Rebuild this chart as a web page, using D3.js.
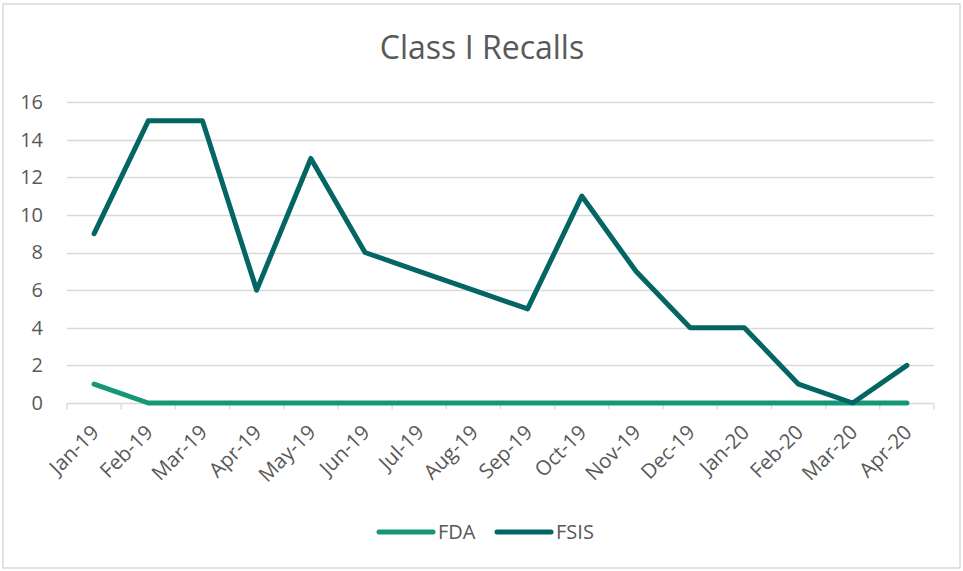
<!DOCTYPE html>
<html>
<head>
<meta charset="utf-8">
<script src="https://cdn.jsdelivr.net/npm/d3@7"></script>
<style>
  body { margin: 0; background: #fff; }
  svg { display: block; font-family: "Open Sans", "Liberation Sans", sans-serif; }
</style>
</head>
<body>
<svg id="chart" width="963" height="571"></svg>
<script>
// data
const months = ["Jan-19", "Feb-19", "Mar-19", "Apr-19", "May-19", "Jun-19", "Jul-19", "Aug-19",
  "Sep-19", "Oct-19", "Nov-19", "Dec-19", "Jan-20", "Feb-20", "Mar-20", "Apr-20"];
const fda = [1, 0, 0, 0, 0, 0, 0, 0, 0, 0, 0, 0, 0, 0, 0, 0];
const fsis = [9, 15, 15, 6, 13, 8, 7, 6, 5, 11, 7, 4, 4, 1, 0, 2];
const yTicks = [0, 2, 4, 6, 8, 10, 12, 14, 16];

const series = [
  {name: "FDA", values: fda, color: "#159679"},
  {name: "FSIS", values: fsis, color: "#046664"}
];

const svg = d3.select("#chart");
const W = 963, H = 571;
const plot = {left: 67, right: 934, top: 102, bottom: 403};
const textColor = "#595959";
const gridColor = "#d9d9d9";

// chart border
svg.append("rect")
  .attr("x", 3).attr("y", 4)
  .attr("width", W - 6).attr("height", H - 7)
  .attr("fill", "#fff")
  .attr("stroke", gridColor)
  .attr("stroke-width", 1.5);

// title
svg.append("text")
  .attr("x", 482).attr("y", 59)
  .attr("text-anchor", "middle")
  .attr("fill", textColor)
  .style("font-size", "32px")
  .text("Class I Recalls");

const x = d3.scaleBand().domain(months).range([plot.left, plot.right]);
const y = d3.scaleLinear().domain([0, 16]).range([plot.bottom, plot.top]);

// gridlines
svg.append("g")
  .selectAll("line")
  .data(yTicks.filter(d => d > 0))
  .join("line")
  .attr("x1", plot.left).attr("x2", plot.right)
  .attr("y1", d => Math.round(y(d)) + 0.5)
  .attr("y2", d => Math.round(y(d)) + 0.5)
  .attr("stroke", gridColor)
  .attr("stroke-width", 1.3);

// y axis labels
const yAxis = svg.append("g")
  .attr("transform", `translate(${plot.left},0)`)
  .call(d3.axisLeft(y).tickValues(yTicks).tickSize(0).tickPadding(24));
yAxis.select(".domain").remove();
yAxis.selectAll("text")
  .attr("fill", textColor)
  .style("font-size", "20px")
  .style("font-family", "'Open Sans', sans-serif");

// x axis
const xAxis = svg.append("g")
  .attr("transform", `translate(0,${Math.round(y(0)) + 0.5})`)
  .call(d3.axisBottom(x).tickSize(0));
xAxis.select(".domain").remove();
xAxis.append("line")
  .attr("x1", plot.left).attr("x2", plot.right)
  .attr("stroke", gridColor).attr("stroke-width", 1.3);
xAxis.selectAll(".tickmark")
  .data(months.concat(["end"]))
  .join("line")
  .attr("class", "tickmark")
  .attr("x1", (d, i) => plot.left + x.step() * i)
  .attr("x2", (d, i) => plot.left + x.step() * i)
  .attr("y1", 0).attr("y2", 6)
  .attr("stroke", gridColor).attr("stroke-width", 1.3);
xAxis.selectAll(".tick text")
  .attr("fill", textColor)
  .style("font-size", "20.5px")
  .style("font-family", "'Open Sans', sans-serif")
  .attr("text-anchor", "end")
  .attr("transform", "translate(1,25) rotate(-45)")
  .attr("dy", "0.35em")
  .attr("y", 0);

// lines
const line = d3.line()
  .x((d, i) => x(months[i]) + x.bandwidth() / 2)
  .y(d => y(d));

svg.append("g")
  .selectAll("path")
  .data(series)
  .join("path")
  .attr("d", d => line(d.values))
  .attr("fill", "none")
  .attr("stroke", d => d.color)
  .attr("stroke-width", 5)
  .attr("stroke-linecap", "round")
  .attr("stroke-linejoin", "round");

// legend
const legend = svg.append("g").attr("transform", "translate(379,532)");
const legendItems = legend.selectAll("g")
  .data(series)
  .join("g")
  .attr("transform", (d, i) => `translate(${i * 118},0)`);
legendItems.append("line")
  .attr("x1", 0).attr("x2", 54)
  .attr("stroke", d => d.color)
  .attr("stroke-width", 5)
  .attr("stroke-linecap", "round");
legendItems.append("text")
  .attr("x", 59).attr("y", 0)
  .attr("dy", "0.35em")
  .attr("fill", textColor)
  .style("font-size", "20px")
  .text(d => d.name);
</script>
</body>
</html>
